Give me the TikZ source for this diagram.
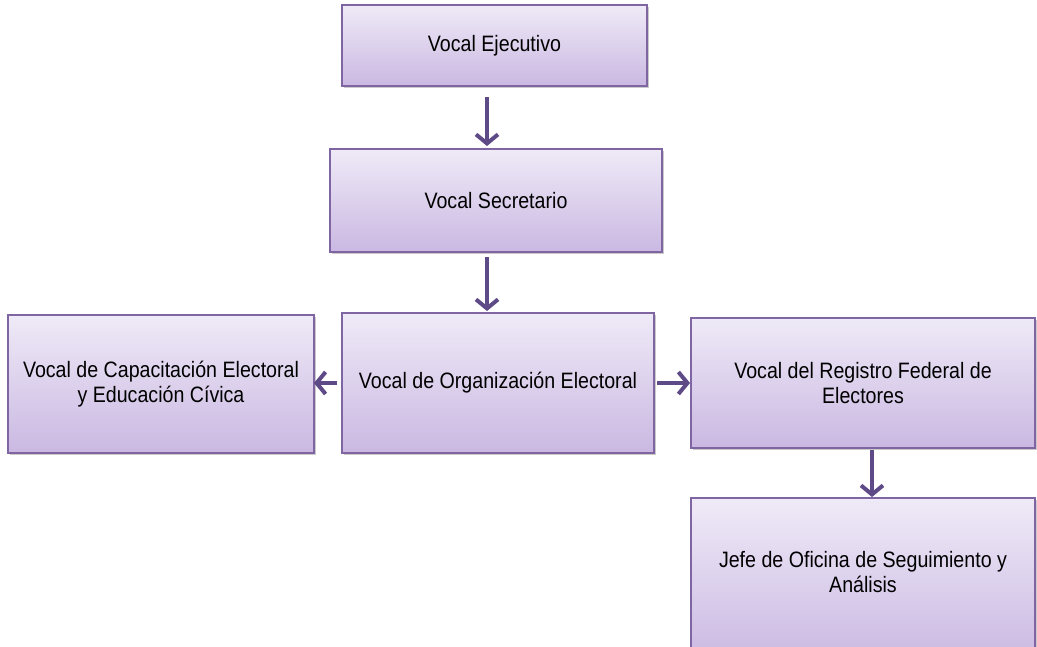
\documentclass[tikz,border=0pt]{standalone}
\usepackage{fontspec}
\setmainfont{Liberation Sans}[FakeStretch=0.88]
\usetikzlibrary{arrows.meta,shadows}
\definecolor{boxtop}{HTML}{EFEAF7}
\definecolor{boxbot}{HTML}{CAB8E2}
\definecolor{boxline}{HTML}{7F65A1}
\definecolor{arrowcol}{HTML}{5E4A87}
\tikzset{
  orgbox/.style={draw=boxline, line width=1.6pt, top color=boxtop, bottom color=boxbot,
    align=center, inner sep=0pt, font=\fontsize{22.3}{25.5}\selectfont,
    drop shadow={shadow xshift=2pt, shadow yshift=-2pt, opacity=0.35, fill=black!60}},
  link/.style={draw=arrowcol, line width=4pt,
    -{Straight Barb[length=9pt, width=22pt, line width=4pt]}}
}
\begin{document}
\begin{tikzpicture}[x=1pt,y=-1pt]
\useasboundingbox (0,0) rectangle (1037,646);
\node[orgbox, minimum width=305pt, minimum height=81pt] (ej) at (494.5,45.5) {Vocal Ejecutivo};
\node[orgbox, minimum width=332pt, minimum height=103pt] (se) at (496,200.5) {Vocal Secretario};
\node[orgbox, minimum width=306pt, minimum height=138pt] (ca) at (161,384) {Vocal de Capacitación Electoral\\y Educación Cívica};
\node[orgbox, minimum width=312pt, minimum height=140pt] (or) at (498,383) {Vocal de Organización Electoral};
\node[orgbox, minimum width=344pt, minimum height=130pt] (re) at (863,383) {Vocal del Registro Federal de\\Electores};
\node[orgbox, minimum width=344pt, minimum height=166pt] (je) at (863,581) {};
\node[font=\fontsize{22.3}{25.5}\selectfont, align=center] (jet) at (863,572) {Jefe de Oficina de Seguimiento y\\Análisis};
\coordinate (a1s) at (487,97);
\coordinate (a1e) at (487,146);
\coordinate (a2s) at (487,257);
\coordinate (a2e) at (487,311);
\coordinate (a3s) at (337,383);
\coordinate (a3e) at (314,383);
\coordinate (a4s) at (657,383);
\coordinate (a4e) at (690,383);
\coordinate (a5s) at (872,450);
\coordinate (a5e) at (872,497);
\draw[link] (a1s) -- (a1e);
\draw[link] (a2s) -- (a2e);
\draw[link] (a3s) -- (a3e);
\draw[link] (a4s) -- (a4e);
\draw[link] (a5s) -- (a5e);
\end{tikzpicture}
\end{document}
